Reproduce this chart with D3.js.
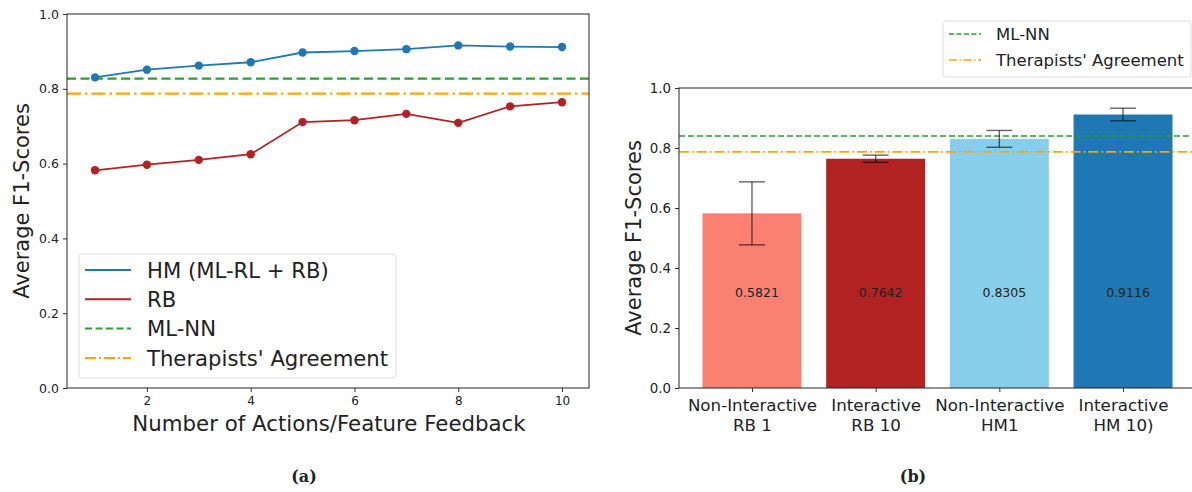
<!DOCTYPE html>
<html>
<head>
<meta charset="utf-8">
<script src="https://cdn.jsdelivr.net/npm/d3@7"></script>
<style>
  body { margin: 0; background: #fff; }
  svg text { font-family: "DejaVu Sans", sans-serif; fill: #222; }
</style>
</head>
<body>
<svg id="fig" width="1192" height="492"></svg>
<script>
// ---- data: panel (a)
var actions = [1, 2, 3, 4, 5, 6, 7, 8, 9, 10];
var hm_scores = [0.8305, 0.851, 0.862, 0.871, 0.897, 0.901, 0.906, 0.916, 0.913, 0.9116];
var rb_scores = [0.5821, 0.597, 0.610, 0.625, 0.711, 0.716, 0.733, 0.709, 0.753, 0.7642];
var mlnn_a = 0.827;
var therapists = 0.787;

// ---- data: panel (b)
var bar_labels = [["Non-Interactive", "RB 1"], ["Interactive", "RB 10"], ["Non-Interactive", "HM1"], ["Interactive", "HM 10)"]];
var bar_values = [0.5821, 0.7642, 0.8305, 0.9116];
var bar_errors = [0.105, 0.012, 0.028, 0.021];
var bar_colors = ["#fa8072", "#b22222", "#87ceeb", "#1f77b4"];
var mlnn_b = 0.84;

var y_ticks = [0, 0.2, 0.4, 0.6, 0.8, 1.0];
var x_ticks = [2, 4, 6, 8, 10];

var svg = d3.select("#fig");

// ================= panel (a) =================
var xa = d3.scaleLinear().domain([0.46, 10.52]).range([67, 589]);
var ya = d3.scaleLinear().domain([0, 1]).range([388, 14]);

var ga = svg.append("g");

ga.append("line").attr("x1", xa.range()[0]).attr("x2", xa.range()[1])
  .attr("y1", ya(mlnn_a)).attr("y2", ya(mlnn_a))
  .attr("stroke", "#2ca02c").attr("stroke-width", 2.2).attr("stroke-dasharray", "9,4.5");
ga.append("line").attr("x1", xa.range()[0]).attr("x2", xa.range()[1])
  .attr("y1", ya(therapists)).attr("y2", ya(therapists))
  .attr("stroke", "#ffa500").attr("stroke-width", 2.2).attr("stroke-dasharray", "14,4,2.5,4");

var line_a = d3.line().x((d, i) => xa(actions[i])).y(d => ya(d));

function draw_series(vals, color) {
  ga.append("path").datum(vals)
    .attr("d", line_a)
    .attr("fill", "none")
    .attr("stroke", color)
    .attr("stroke-width", 1.8);
  ga.append("g").selectAll("circle")
    .data(vals)
    .enter()
    .append("circle")
    .attr("cx", (d, i) => xa(actions[i]))
    .attr("cy", d => ya(d))
    .attr("r", 4.2)
    .style("fill", color);
}
draw_series(hm_scores, "#1f77b4");
draw_series(rb_scores, "#b22222");

ga.append("g").attr("transform", "translate(0,388)")
  .call(d3.axisBottom(xa).tickValues(x_ticks).tickSize(4).tickPadding(4).tickFormat(d3.format("d")))
  .call(g => g.select(".domain").remove())
  .selectAll("text").style("font-size", "12px");
ga.append("g").attr("transform", "translate(67,0)")
  .call(d3.axisLeft(ya).tickValues(y_ticks).tickSize(4).tickPadding(4).tickFormat(d3.format(".1f")))
  .call(g => g.select(".domain").remove())
  .selectAll("text").style("font-size", "12.5px");
ga.selectAll(".tick line").attr("stroke", "#333");

ga.append("rect").attr("x", 67).attr("y", 14).attr("width", 522).attr("height", 374)
  .attr("fill", "none").attr("stroke", "#222").attr("stroke-width", 1);

ga.append("text").attr("x", 329).attr("y", 431).attr("text-anchor", "middle")
  .style("font-size", "21.3px").text("Number of Actions/Feature Feedback");
ga.append("text").attr("transform", "translate(29,201) rotate(-90)").attr("text-anchor", "middle")
  .style("font-size", "21px").text("Average F1-Scores");

// legend (a)
var leg_a = [
  { name: "HM (ML-RL + RB)", color: "#1f77b4", dash: null },
  { name: "RB", color: "#b22222", dash: null },
  { name: "ML-NN", color: "#2ca02c", dash: "7,3.5" },
  { name: "Therapists' Agreement", color: "#ffa500", dash: "11,3,2,3" }
];
ga.append("rect").attr("x", 79).attr("y", 254).attr("width", 317).attr("height", 124)
  .attr("rx", 3).attr("fill", "#fff").attr("fill-opacity", 0.8)
  .attr("stroke", "#ddd").attr("stroke-width", 1);
var la = ga.selectAll(".leg").data(leg_a).enter().append("g").attr("class", "leg");
la.append("line").attr("x1", 85).attr("x2", 131)
  .attr("y1", (d, i) => 270 + i * 29.3).attr("y2", (d, i) => 270 + i * 29.3)
  .attr("stroke", d => d.color).attr("stroke-width", 2)
  .attr("stroke-dasharray", d => d.dash);
la.append("text").attr("x", 147).attr("y", (d, i) => 270 + i * 29.3).attr("dy", "0.36em")
  .style("font-size", "21.2px").text(d => d.name);

// ================= panel (b) =================
var xb = d3.scaleLinear().domain([-0.59, 3.59]).range([679, 1196]);
var yb = d3.scaleLinear().domain([0, 1]).range([388, 88]);
var bw = xb(0.8) - xb(0);

var gb = svg.append("g");

gb.selectAll(".bar").data(bar_values).enter().append("rect")
  .attr("class", "bar")
  .attr("x", (d, i) => xb(i) - bw / 2)
  .attr("y", d => yb(d))
  .attr("width", bw)
  .attr("height", d => yb(0) - yb(d))
  .style("fill", (d, i) => bar_colors[i]);

gb.append("line").attr("x1", 679).attr("x2", 1196)
  .attr("y1", yb(mlnn_b)).attr("y2", yb(mlnn_b))
  .attr("stroke", "#2ca02c").attr("stroke-width", 1.6).attr("stroke-dasharray", "6,3");
gb.append("line").attr("x1", 679).attr("x2", 1196)
  .attr("y1", yb(therapists)).attr("y2", yb(therapists))
  .attr("stroke", "#ffa500").attr("stroke-width", 1.6).attr("stroke-dasharray", "10,3,1.8,3");

// error bars
var eb = gb.selectAll(".err").data(bar_values).enter().append("g").attr("class", "err")
  .attr("stroke", "#000").attr("stroke-opacity", 0.6).attr("stroke-width", 1.4);
eb.append("line").attr("x1", (d, i) => xb(i)).attr("x2", (d, i) => xb(i))
  .attr("y1", (d, i) => yb(d - bar_errors[i])).attr("y2", (d, i) => yb(d + bar_errors[i]));
eb.append("line").attr("x1", (d, i) => xb(i) - 13).attr("x2", (d, i) => xb(i) + 13)
  .attr("y1", (d, i) => yb(d + bar_errors[i])).attr("y2", (d, i) => yb(d + bar_errors[i]));
eb.append("line").attr("x1", (d, i) => xb(i) - 13).attr("x2", (d, i) => xb(i) + 13)
  .attr("y1", (d, i) => yb(d - bar_errors[i])).attr("y2", (d, i) => yb(d - bar_errors[i]));

// value labels
gb.selectAll(".val").data(bar_values).enter().append("text")
  .attr("x", (d, i) => xb(i) + 5).attr("y", yb(0.317)).attr("dy", "0.36em")
  .attr("text-anchor", "middle").style("font-size", "12.5px")
  .text(d => d.toFixed(4));

// axes (b)
var xbAxis = gb.append("g").attr("transform", "translate(0,388)")
  .call(d3.axisBottom(xb).tickValues([0, 1, 2, 3]).tickSize(4).tickFormat(""));
xbAxis.select(".domain").remove();
xbAxis.selectAll(".tick").each(function(d) {
  var t = d3.select(this).append("text").attr("text-anchor", "middle").style("font-size", "16.7px");
  t.append("tspan").attr("x", 0).attr("y", 23).text(bar_labels[d][0]);
  t.append("tspan").attr("x", 0).attr("y", 43).text(bar_labels[d][1]);
});
gb.append("g").attr("transform", "translate(679,0)")
  .call(d3.axisLeft(yb).tickValues(y_ticks).tickSize(4).tickPadding(4).tickFormat(d3.format(".1f")))
  .call(g => g.select(".domain").remove())
  .selectAll("text").style("font-size", "13.4px");
gb.selectAll(".tick line").attr("stroke", "#333");

gb.append("rect").attr("x", 679).attr("y", 88).attr("width", 517).attr("height", 300)
  .attr("fill", "none").attr("stroke", "#222").attr("stroke-width", 1);

gb.append("text").attr("transform", "translate(641,238) rotate(-90)").attr("text-anchor", "middle")
  .style("font-size", "21px").text("Average F1-Scores");

// legend (b)
var leg_b = [
  { name: "ML-NN", color: "#2ca02c", dash: "5,2.5" },
  { name: "Therapists' Agreement", color: "#ffa500", dash: "8,2.5,1.5,2.5" }
];
gb.append("rect").attr("x", 943).attr("y", 21).attr("width", 248).attr("height", 56)
  .attr("rx", 3).attr("fill", "#fff").attr("fill-opacity", 0.8)
  .attr("stroke", "#ddd").attr("stroke-width", 1);
var lb = gb.selectAll(".legb").data(leg_b).enter().append("g").attr("class", "legb");
lb.append("line").attr("x1", 949).attr("x2", 981)
  .attr("y1", (d, i) => 34 + i * 26).attr("y2", (d, i) => 34 + i * 26)
  .attr("stroke", d => d.color).attr("stroke-width", 1.6)
  .attr("stroke-dasharray", d => d.dash);
lb.append("text").attr("x", 996).attr("y", (d, i) => 34 + i * 26).attr("dy", "0.36em")
  .style("font-size", "16.5px").text(d => d.name);

// captions
svg.append("text").attr("x", 304).attr("y", 482).attr("text-anchor", "middle")
  .style("font-family", "'DejaVu Serif', 'Liberation Serif', serif").style("font-weight", "bold")
  .style("font-size", "16px").text("(a)");
svg.append("text").attr("x", 913).attr("y", 482).attr("text-anchor", "middle")
  .style("font-family", "'DejaVu Serif', 'Liberation Serif', serif").style("font-weight", "bold")
  .style("font-size", "16px").text("(b)");
</script>
</body>
</html>
